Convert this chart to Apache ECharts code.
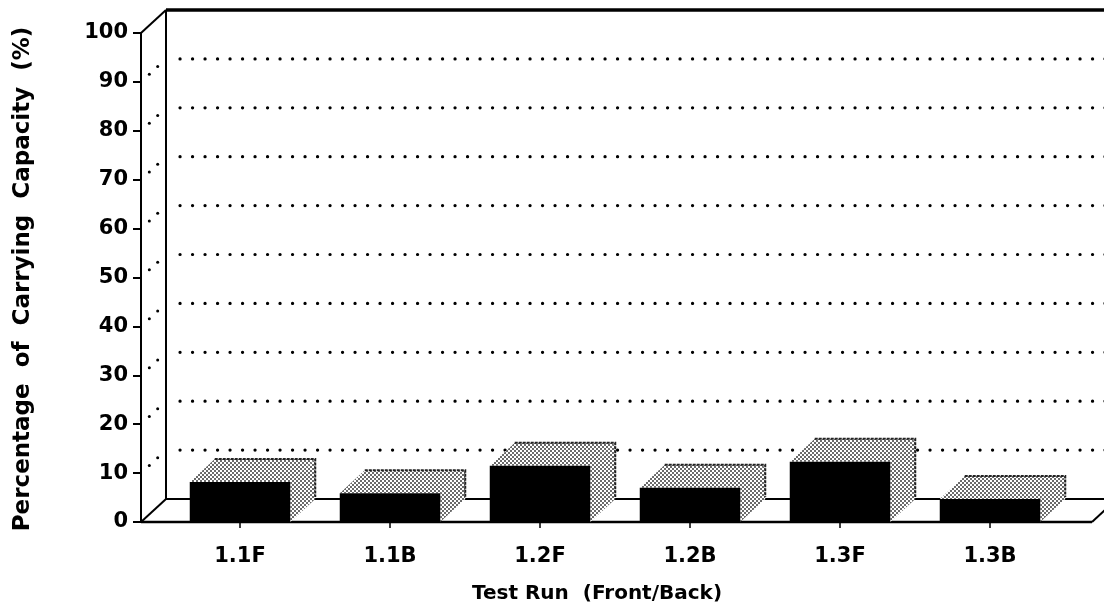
<!DOCTYPE html>
<html>
<head>
<meta charset="utf-8">
<script src="https://cdn.jsdelivr.net/npm/echarts@6/dist/echarts.min.js"></script>
<style>
  html, body { margin: 0; padding: 0; background: #ffffff; }
  #chart { width: 1104px; height: 608px; }
</style>
</head>
<body>
<div id="chart"></div>
<script>
// Test runs (front / back) and the load carried, as % of capacity
const categories = ['1.1F', '1.1B', '1.2F', '1.2B', '1.3F', '1.3B'];
const capacityPct = [8.2, 5.9, 11.5, 7.0, 12.3, 4.7];
// Dotted reference lines on the back wall
const wallGridValues = [10, 20, 30, 40, 50, 60, 70, 80, 90];
const yMin = 0, yMax = 100, yStep = 10;

const xTitle = 'Test Run  (Front/Back)';
const yTitle = 'Percentage  of  Carrying  Capacity  (%)';

// Pseudo-3D depth of the plot box (pixels)
const DEPTH_X = 25;
const DEPTH_Y = -23;
const LEFT_PAD = 24;   // front y-axis sits this far left of the category band
const RIGHT_PAD = 27;  // floor runs past the last band
const BAR_RATIO = 0.67;
const FONT = '"DejaVu Sans", Verdana, sans-serif';

// Stippled fill used on bar tops and sides
function stipple() {
  const c = document.createElement('canvas');
  c.width = 4; c.height = 4;
  const g = c.getContext('2d');
  g.fillStyle = '#ffffff';
  g.fillRect(0, 0, 4, 4);
  g.fillStyle = '#6a6a6a';
  g.fillRect(0, 0, 2, 2);
  g.fillRect(2, 2, 2, 2);
  return c;
}
const dotFill = { image: stipple(), repeat: 'repeat' };

const chart = echarts.init(document.getElementById('chart'), null, { renderer: 'canvas' });

function renderFrame(params, api) {
  const cs = params.coordSys;
  const xl = cs.x - LEFT_PAD;
  const xr = cs.x + cs.width + RIGHT_PAD;
  const y0 = api.coord([0, yMin])[1];
  const yTop = api.coord([0, yMax])[1];
  const line = (x1, y1, x2, y2, w, extra) => ({
    type: 'line',
    shape: { x1, y1, x2, y2 },
    style: Object.assign({ stroke: '#000', lineWidth: w }, extra || {})
  });
  const kids = [
    line(xl, yTop, xl + DEPTH_X, yTop + DEPTH_Y, 2),
    line(xl + DEPTH_X, yTop + DEPTH_Y, xl + DEPTH_X, y0 + DEPTH_Y, 2),
    line(xl + DEPTH_X, yTop + DEPTH_Y, xr + DEPTH_X + 40, yTop + DEPTH_Y, 3.5),
    line(xl, y0, xr, y0, 2.5),
    line(xl, y0, xl + DEPTH_X, y0 + DEPTH_Y, 2),
    line(xl + DEPTH_X, y0 + DEPTH_Y, xr + DEPTH_X + 40, y0 + DEPTH_Y, 2),
    line(xr, y0, xr + DEPTH_X, y0 + DEPTH_Y, 2)
  ];
  wallGridValues.forEach(v => {
    const yf = api.coord([0, v])[1];
    const yb = yf + DEPTH_Y;
    kids.push(line(xl + DEPTH_X + 14, yb, xr + DEPTH_X + 40, yb, 3.2,
      { lineDash: [0.1, 12.4], lineCap: 'round' }));
    [1 / 3, 2 / 3].forEach(t => {
      kids.push({
        type: 'circle',
        shape: { cx: xl + DEPTH_X * t, cy: yf + DEPTH_Y * t, r: 1.5 },
        style: { fill: '#000' }
      });
    });
  });
  return { type: 'group', children: kids };
}

function renderBar(params, api) {
  const idx = api.value(0);
  const v = api.value(1);
  const top = api.coord([idx, v]);
  const base = api.coord([idx, yMin]);
  const w = api.size([1, 0])[0] * BAR_RATIO;
  const x0 = top[0] - w / 2, x1 = top[0] + w / 2;
  const yt = top[1], yb = base[1];
  const dx = DEPTH_X, dy = DEPTH_Y;
  return {
    type: 'group',
    children: [
      {
        type: 'polygon',
        shape: { points: [[x1, yt], [x1 + dx, yt + dy], [x1 + dx, yb + dy], [x1, yb]] },
        style: { fill: dotFill }
      },
      {
        type: 'polygon',
        shape: { points: [[x0, yt], [x1, yt], [x1 + dx, yt + dy], [x0 + dx, yt + dy]] },
        style: { fill: dotFill }
      },
      {
        type: 'polyline',
        shape: { points: [[x0 + dx, yt + dy], [x1 + dx, yt + dy], [x1 + dx, yb + dy - 2]] },
        style: { stroke: '#222', lineWidth: 2, fill: null, lineDash: [3, 1] }
      },
      {
        type: 'rect',
        shape: { x: x0, y: yt, width: w, height: yb - yt },
        style: { fill: '#000' }
      }
    ]
  };
}

chart.setOption({
  animation: false,
  backgroundColor: '#ffffff',
  grid: { left: 165, top: 33, width: 900, height: 489 },
  xAxis: {
    type: 'category',
    data: categories,
    axisLine: { show: false },
    axisTick: { show: true, alignWithLabel: true, length: 6, lineStyle: { color: '#000', width: 1.5 } },
    axisLabel: { color: '#000', fontFamily: FONT, fontSize: 21, fontWeight: 'bold', margin: 24 },
    splitLine: { show: false }
  },
  yAxis: {
    type: 'value',
    min: yMin, max: yMax, interval: yStep,
    offset: LEFT_PAD,
    axisLine: { show: true, lineStyle: { color: '#000', width: 2 } },
    axisTick: { show: true, length: 8, lineStyle: { color: '#000', width: 2 } },
    axisLabel: { color: '#000', fontFamily: FONT, fontSize: 21, fontWeight: 'bold', margin: 13 },
    splitLine: { show: false }
  },
  graphic: [
    {
      type: 'text', x: 597, y: 594,
      style: { text: xTitle, fill: '#000', font: 'bold 20px ' + FONT, textAlign: 'center', textVerticalAlign: 'middle' }
    },
    {
      type: 'text', x: 23, y: 279, rotation: Math.PI / 2,
      style: { text: yTitle, fill: '#000', font: 'bold 23px ' + FONT, textAlign: 'center', textVerticalAlign: 'middle' }
    }
  ],
  series: [
    {
      type: 'custom',
      name: 'frame',
      z: 1,
      silent: true,
      clip: false,
      renderItem: renderFrame,
      data: [[0, 0]]
    },
    {
      type: 'custom',
      name: 'Carrying capacity',
      z: 2,
      clip: false,
      renderItem: renderBar,
      encode: { x: 0, y: 1 },
      data: capacityPct.map((v, i) => [i, v])
    }
  ]
});
</script>
</body>
</html>
